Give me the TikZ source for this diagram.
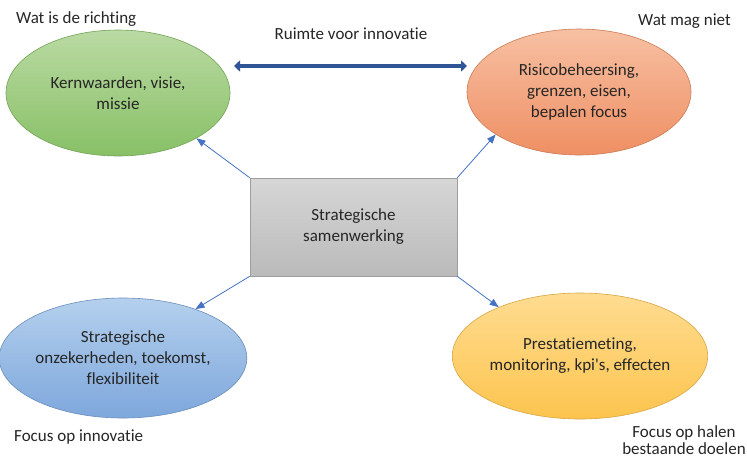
\documentclass[tikz,border=0pt]{standalone}
\usepackage{fontspec}
\setmainfont{Carlito}[Ligatures=NoCommon]
\usetikzlibrary{arrows.meta, shapes.geometric}
\definecolor{dgGtop}{RGB}{186,218,163}
\definecolor{dgGbot}{RGB}{136,192,102}
\definecolor{dgOtop}{RGB}{247,192,162}
\definecolor{dgObot}{RGB}{239,143,100}
\definecolor{dgBtop}{RGB}{180,208,237}
\definecolor{dgBbot}{RGB}{126,167,220}
\definecolor{dgYtop}{RGB}{255,220,145}
\definecolor{dgYbot}{RGB}{252,196,78}
\definecolor{dgLine}{RGB}{68,114,196}
\definecolor{dgDark}{RGB}{47,85,151}
\definecolor{dgText}{RGB}{38,38,38}
\newcommand{\dgfont}{\fontsize{17}{21}\selectfont}
\tikzset{dgell/.style={ellipse, inner sep=0pt, align=center, text=dgText, font=\dgfont, line width=0.6pt},
  dgbox/.style={rectangle, draw=black!38, line width=0.6pt, top color=black!16, bottom color=black!27,
    minimum width=207pt, minimum height=98pt, align=center, text=dgText, font=\dgfont},
  dglab/.style={text=dgText, font=\dgfont, inner sep=0pt},
  dgarr/.style={-{Triangle[length=9pt,width=7pt]}, dgLine, line width=0.8pt}}

\begin{document}
\begin{tikzpicture}[x=1pt, y=-1pt]
\useasboundingbox (0,0) rectangle (747,459);
\fill[white] (0,0) rectangle (747,459);
% centre box and the four ellipses around it
\node[dgbox] (box) at (353.5,227) {Strategische\\samenwerking};
\node[dgell, draw=dgGbot!85!black, top color=dgGtop, bottom color=dgGbot,
  minimum width=224pt, minimum height=126pt] (kern) at (118,93) {Kernwaarden, visie,\\missie};
\node[dgell, draw=dgObot!85!black, top color=dgOtop, bottom color=dgObot,
  minimum width=224pt, minimum height=126pt] (risico) at (579,92) {Risicobeheersing,\\grenzen, eisen,\\bepalen focus};
\node[dgell, draw=dgBbot!85!black, top color=dgBtop, bottom color=dgBbot,
  minimum width=218pt, minimum height=120pt] (onzeker) at (123,358) {Strategische\\onzekerheden, toekomst,\\flexibiliteit};
\node[dgell, draw=dgYbot!85!black, top color=dgYtop, bottom color=dgYbot,
  minimum width=226pt, minimum height=126pt] (prestatie) at (580,356) {Prestatiemeting,\\monitoring, kpi\textquotesingle s, effecten};
% connectors from the box corners
\draw[dgarr] (box.north west) -- (kern.-30);
\draw[dgarr] (box.north east) -- (risico.-153);
\draw[dgarr] (box.south west) -- (onzeker.34);
\draw[dgarr] (box.south east) -- (prestatie.149);
% double arrow between the top ellipses
\coordinate (ruimteL) at (234,66);
\coordinate (ruimteR) at (467,66);
\draw[dgDark, line width=4pt, {Triangle[length=6pt,width=11pt]}-{Triangle[length=6pt,width=11pt]}] (ruimteL) -- (ruimteR);
% free labels
\node[dglab] (ruimte) at (351,34) {Ruimte voor innovatie};
\node[dglab, anchor=west] (richting) at (16,19) {Wat is de richting};
\node[dglab, anchor=west] (magniet) at (638,21) {Wat mag niet};
\node[dglab, anchor=west] (focusinno) at (14,437) {Focus op innovatie};
\node[dglab, align=center, font=\fontsize{17}{17}\selectfont] (focushalen) at (684,440) {Focus op halen\\bestaande doelen};
\end{tikzpicture}
\end{document}
